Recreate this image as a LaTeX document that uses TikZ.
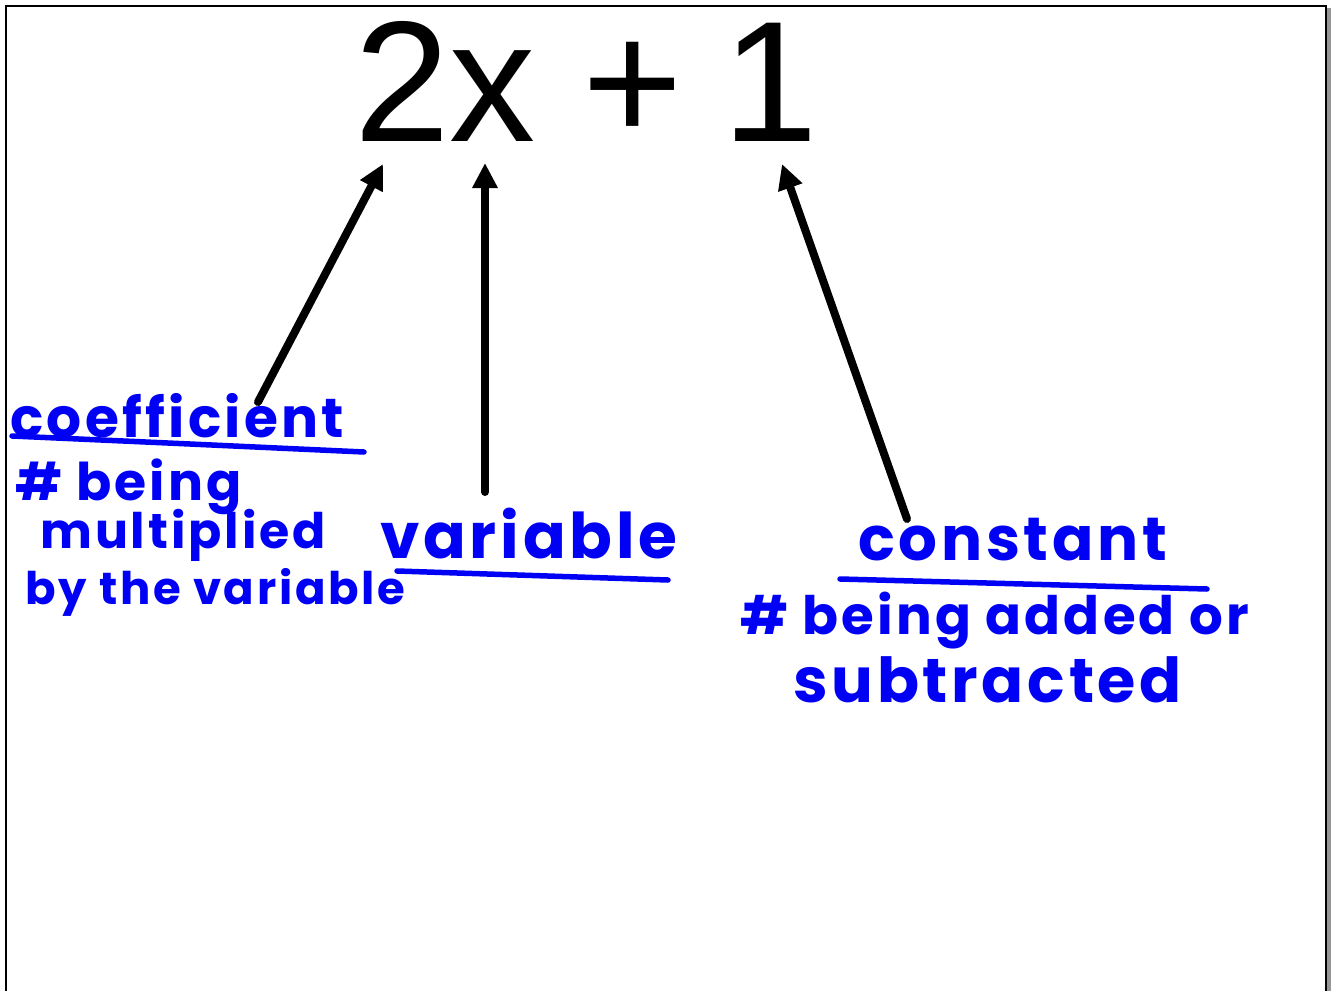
\documentclass[tikz,border=0pt]{standalone}
\usepackage{fontspec}
\setmainfont{Liberation Sans}
\newfontfamily\handfont[LetterSpace=6]{Poppins}
\usetikzlibrary{arrows.meta, positioning, calc}
\definecolor{inkblue}{RGB}{0,0,245}
\definecolor{frameshadow}{RGB}{150,150,150}
\tikzset{
  termnode/.style={inner sep=0pt,anchor=base west,font=\fontsize{172}{172}\selectfont},
  handnode/.style={inner sep=0pt,anchor=base west,text=inkblue},
  handtext/.style={handnode,font=\handfont\bfseries\fontsize{#1}{#1}\selectfont},
  inkline/.style={draw=inkblue,line width=5.5pt,line cap=round},
  pointarr/.style={-{Triangle[length=25pt,width=24pt]},line width=8pt,line cap=round,color=black}
}

\begin{document}
\begin{tikzpicture}[x=1pt,y=-1pt]
  \useasboundingbox (0,0) rectangle (1334,991);

  %% slide frame
  \draw[frameshadow,line width=4pt] (1329,8) -- (1329,995);
  \draw[black,line width=2pt] (6,998) -- (6,5.5) -- (1325.5,5.5) -- (1325.5,998);

  %% expression
  \node[termnode] (coef) at (354,141) {2};
  \node[termnode] (var) at (449,141) {x};
  \node[termnode] (plus) at (582,141) {+};
  \node[termnode] (const) at (722,141) {1};

  %% coefficient label
  \node[handtext=55] (coeflbl) at (10,437) {coefficient};
  \node[handtext=52] (coefdef1) at (15,500) {\# being};
  \node[handtext=49] (coefdef2) at (40,548) {multiplied};
  \node[handtext=45] (coefdef3) at (25,604) {by the variable};

  %% variable label
  \node[handtext=63] (varlbl) at (380,558) {variable};

  %% constant label
  \node[handtext=61] (constlbl) at (858,560) {constant};
  \node[handtext=53] (constdef1) at (740,634) {\# being added or};
  \node[handtext=62] (constdef2) at (793,702) {subtracted};

  %% underlines
  \draw[inkline] (12,436) -- (190,444) -- (364,452);
  \draw[inkline] (397,571) -- (668,580);
  \draw[inkline] (840,579) -- (1207,589);

  %% arrows
  \coordinate (coeftail) at (258,402);
  \coordinate (coeftip) at (383,164);
  \coordinate (vartail) at (485,492);
  \coordinate (vartip) at (485,163);
  \coordinate (consttail) at (907,519);
  \coordinate (consttip) at (782,164);
  \draw[pointarr] (coeftail) -- (coeftip);
  \draw[pointarr] (vartail) -- (vartip);
  \draw[pointarr] (consttail) -- (consttip);
\end{tikzpicture}
\end{document}
